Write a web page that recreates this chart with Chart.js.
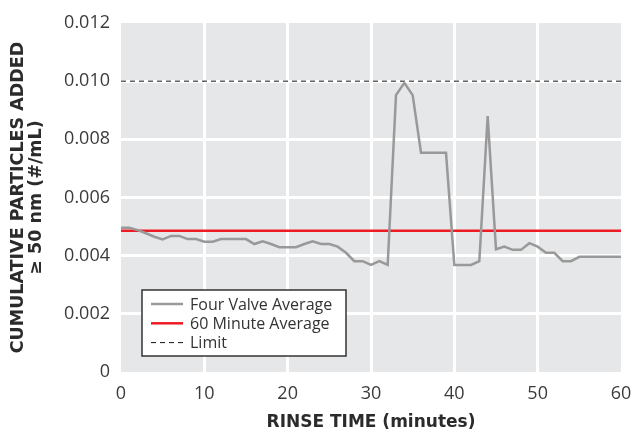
<!DOCTYPE html>
<html>
<head>
<meta charset="utf-8">
<script src="https://cdn.jsdelivr.net/npm/chart.js@4/dist/chart.umd.min.js"></script>
<style>
  html, body { margin: 0; padding: 0; background: #fff; }
  #wrap { width: 633px; height: 433px; }
</style>
</head>
<body>
<div id="wrap"><canvas id="rinseChart" width="633" height="433"></canvas></div>
<script>
// Dados
const minutes = [0, 1, 2, 3, 4, 5, 6, 7, 8, 9, 10, 11, 12, 13, 14, 15, 16, 17, 18, 19, 20,
  21, 22, 23, 24, 25, 26, 27, 28, 29, 30, 31, 32, 33, 34, 35, 36, 37, 38, 39, 40,
  41, 42, 43, 44, 45, 46, 47, 48, 49, 50, 51, 52, 53, 54, 55, 56, 57, 58, 59, 60];

const fourValveAvg = [0.00496, 0.00496, 0.00488, 0.00477, 0.00465, 0.00456, 0.00468, 0.00468, 0.00457, 0.00457,
  0.00448, 0.00448, 0.00457, 0.00457, 0.00457, 0.00457, 0.00440, 0.00449, 0.00440, 0.00429,
  0.00429, 0.00429, 0.00440, 0.00449, 0.00440, 0.00440, 0.00431, 0.00410, 0.00381, 0.00381,
  0.00368, 0.00381, 0.00368, 0.00952, 0.00994, 0.00952, 0.00754, 0.00754, 0.00754, 0.00754,
  0.00368, 0.00368, 0.00368, 0.00381, 0.00880, 0.00422, 0.00431, 0.00420, 0.00420, 0.00443,
  0.00431, 0.00410, 0.00410, 0.00381, 0.00381, 0.00396, 0.00396, 0.00396, 0.00396, 0.00396, 0.00396];

const sixtyMinuteAvg = 0.00486;
const limitValue = 0.010;

const xTicks = [0, 10, 20, 30, 40, 50, 60];
const yTicks = [0, 0.002, 0.004, 0.006, 0.008, 0.010, 0.012];
const yTickLabels = ["0", "0.002", "0.004", "0.006", "0.008", "0.010", "0.012"];

const seriesLabels = ["Four Valve Average", "60 Minute Average", "Limit"];

// Fundo cinza da área do gráfico
const plotBackground = {
  id: "plotBackground",
  beforeDraw(chart) {
    const { ctx, chartArea: a } = chart;
    ctx.save();
    ctx.fillStyle = "#e6e7e8";
    ctx.fillRect(a.left, a.top, a.right - a.left, a.bottom - a.top);
    ctx.restore();
  }
};

// Legenda dentro da área do gráfico
const insideLegend = {
  id: "insideLegend",
  afterDatasetsDraw(chart) {
    const { ctx } = chart;
    const box = { x: 142, y: 290, w: 204, h: 66 };
    ctx.save();
    ctx.fillStyle = "#ffffff";
    ctx.fillRect(box.x, box.y, box.w, box.h);
    ctx.strokeStyle = "#333333";
    ctx.lineWidth = 1.5;
    ctx.strokeRect(box.x, box.y, box.w, box.h);
    ctx.font = "16px 'Open Sans'";
    ctx.textBaseline = "middle";
    chart.data.datasets.forEach((ds, i) => {
      const y = box.y + 14 + i * 19.3;
      ctx.beginPath();
      ctx.strokeStyle = ds.borderColor;
      ctx.lineWidth = ds.borderWidth;
      ctx.setLineDash(ds.borderDash || []);
      ctx.moveTo(box.x + 9, y);
      ctx.lineTo(box.x + 41, y);
      ctx.stroke();
      ctx.setLineDash([]);
      ctx.fillStyle = "#333333";
      ctx.fillText(ds.label, box.x + 48, y + 1);
    });
    ctx.restore();
  }
};

const edgeGrid = (ctx) => {
  const s = ctx.scale;
  const v = ctx.tick ? ctx.tick.value : null;
  return (v === s.min || v === s.max) ? "rgba(0,0,0,0)" : "#ffffff";
};

const canvas = document.getElementById("rinseChart").getContext("2d");

new Chart(canvas, {
  type: "line",
  data: {
    datasets: [
      {
        label: seriesLabels[0],
        data: minutes.map((m, i) => ({ x: m, y: fourValveAvg[i] })),
        borderColor: "#999999",
        borderWidth: 2.5,
        pointRadius: 0,
        tension: 0
      },
      {
        label: seriesLabels[1],
        data: [{ x: minutes[0], y: sixtyMinuteAvg }, { x: minutes[minutes.length - 1], y: sixtyMinuteAvg }],
        borderColor: "#ed1c24",
        borderWidth: 2.5,
        pointRadius: 0
      },
      {
        label: seriesLabels[2],
        data: [{ x: minutes[0], y: limitValue }, { x: minutes[minutes.length - 1], y: limitValue }],
        borderColor: "#111111",
        borderWidth: 1,
        borderDash: [5, 4],
        pointRadius: 0
      }
    ]
  },
  options: {
    responsive: false,
    animation: false,
    layout: { padding: { left: 0, top: 23, right: 12, bottom: 0 } },
    plugins: { legend: { display: false }, tooltip: { enabled: false } },
    scales: {
      x: {
        type: "linear",
        min: 0,
        max: 60,
        afterBuildTicks: (s) => { s.ticks = xTicks.map(v => ({ value: v })); },
        afterFit: (s) => { s.height = 61; s.paddingLeft = 0; s.paddingRight = 0; },
        grid: { color: edgeGrid, lineWidth: 3, drawTicks: false },
        border: { display: false },
        ticks: { color: "#3b3b3b", padding: 11, font: { family: "'Open Sans'", size: 18 } },
        title: {
          display: true,
          text: "RINSE TIME (minutes)",
          color: "#2b2b2b",
          padding: { top: 0, bottom: 0 },
          font: { family: "'DejaVu Sans'", size: 17, weight: "bold" }
        }
      },
      y: {
        min: 0,
        max: 0.012,
        afterBuildTicks: (s) => { s.ticks = yTicks.map(v => ({ value: v })); },
        afterFit: (s) => { s.width = 121; s.paddingTop = 0; s.paddingBottom = 0; },
        grid: { color: edgeGrid, lineWidth: 3, drawTicks: false },
        border: { display: false },
        ticks: {
          color: "#3b3b3b",
          padding: 11,
          font: { family: "'Open Sans'", size: 18 },
          callback: (v) => {
            const i = yTicks.findIndex(t => Math.abs(t - v) < 1e-9);
            return i >= 0 ? yTickLabels[i] : "";
          }
        },
        title: {
          display: true,
          text: ["CUMULATIVE PARTICLES ADDED", "≥ 50 nm (#/mL)"],
          color: "#2b2b2b",
          padding: { top: 10, bottom: 0 },
          font: { family: "'DejaVu Sans'", size: 17.5, weight: "bold", lineHeight: 1.0 }
        }
      }
    }
  },
  plugins: [plotBackground, insideLegend]
});
</script>
</body>
</html>
